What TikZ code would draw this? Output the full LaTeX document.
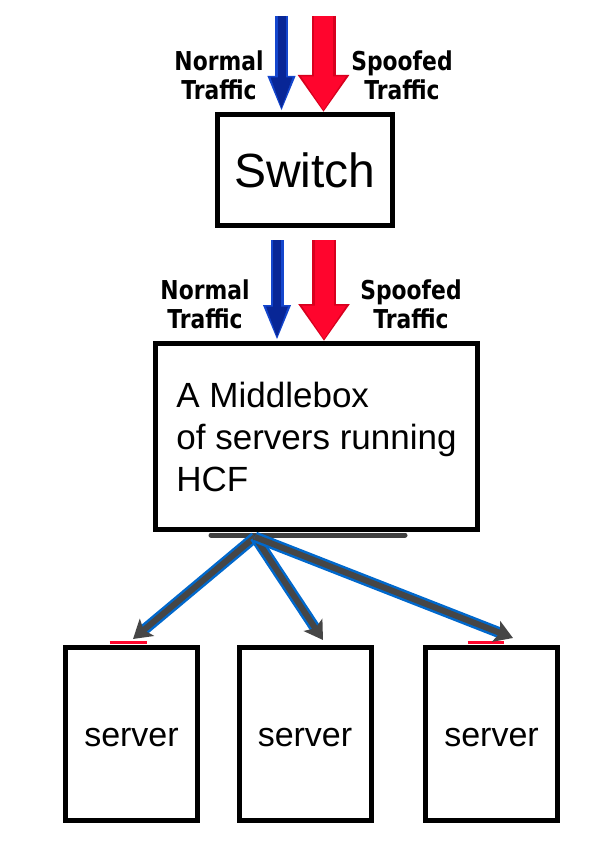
\documentclass[tikz,border=0pt]{standalone}
\usepackage{fontspec}
\usepackage{tikz}
\usetikzlibrary{arrows.meta}
\setmainfont{Liberation Sans}
\newfontfamily\trafficfont[FakeStretch=0.84]{DejaVu Sans}

\definecolor{normalfill}{RGB}{8,38,150}
\definecolor{normalline}{RGB}{20,70,205}
\definecolor{spooffill}{RGB}{255,5,45}
\definecolor{spoofline}{RGB}{215,0,30}
\definecolor{fangray}{RGB}{70,70,70}
\definecolor{fanblue}{RGB}{0,104,204}

\begin{document}
\begin{tikzpicture}[x=1pt, y=-1pt,
        box/.style={draw, line width=5pt, rectangle, inner sep=0pt},
        tlabel/.style={font=\trafficfont\bfseries\fontsize{26}{29}\selectfont, align=center},
        normalflow/.style={normalfill, line width=8pt, -{Triangle[length=33pt, width=19pt]}, shorten >=1.5pt,
            preaction={draw=normalline, line width=13pt, -{Triangle[length=36pt, width=25pt]}, shorten >=0pt}},
        spoofflow/.style={spooffill, line width=19pt, -{Triangle[length=34pt, width=42pt]}, shorten >=1.5pt,
            preaction={draw=spoofline, line width=24pt, -{Triangle[length=37pt, width=49pt]}, shorten >=0pt}},
        fanflow/.style={fangray, line width=6pt, -{Stealth[length=18pt, width=22pt, inset=4pt]},
            preaction={draw=fanblue, line width=11pt, -, shorten >=14pt}}
        ]
        \useasboundingbox (0,0) rectangle (600,842);

        \node[box, minimum width=175pt, minimum height=111pt, font=\fontsize{48}{56}\selectfont]
                (switch) at (305,170)   {Switch};
        \node[box, minimum width=322pt, minimum height=186pt, align=left,
              font=\fontsize{35}{42}\selectfont]
                (mbox)   at (316.5,436.5) {A Middlebox\\of servers running\\HCF};
        \node[box, minimum width=132pt, minimum height=173pt, text height=26pt, font=\fontsize{34}{40}\selectfont]
                (srv1)   at (131.5,734) {server};
        \node[box, minimum width=132pt, minimum height=173pt, text height=26pt, font=\fontsize{34}{40}\selectfont]
                (srv2)   at (305,734)   {server};
        \node[box, minimum width=132pt, minimum height=173pt, text height=26pt, font=\fontsize{34}{40}\selectfont]
                (srv3)   at (491.5,734) {server};

        \node[tlabel] (norm1)  at (219,75)  {Normal\\Traffic};
        \node[tlabel] (spoof1) at (402,75)  {Spoofed\\Traffic};
        \node[tlabel] (norm2)  at (205,304) {Normal\\Traffic};
        \node[tlabel] (spoof2) at (411,304) {Spoofed\\Traffic};

        \coordinate (nin1) at (281.5,16);
        \coordinate (sin1) at (323.5,16);
        \coordinate (nin2) at (277,240);
        \coordinate (sin2) at (324,240);
        \coordinate (fan)  at (255,537);

        % traffic into the switch and into the middlebox
        \draw[normalflow] (nin1) -- (nin1 |- switch.north);
        \draw[spoofflow]  (sin1) -- (sin1 |- switch.north);
        \draw[normalflow] (nin2) -- (nin2 |- mbox.north);
        \draw[spoofflow]  (sin2) -- (sin2 |- mbox.north);

        % leftovers under the middlebox and on the servers
        \draw[black!75, line width=5pt, line cap=round] ([xshift=58pt,yshift=-3pt]mbox.south west) -- ([xshift=-75pt,yshift=-3pt]mbox.south east);
        \draw[spooffill, line width=3pt] ([xshift=-22pt,yshift=3pt]srv1.north) -- ([xshift=15pt,yshift=3pt]srv1.north);
        \draw[spooffill, line width=3pt] ([xshift=-24pt,yshift=3pt]srv3.north) -- ([xshift=12pt,yshift=3pt]srv3.north);

        % middlebox to servers
        \draw[fanflow] (fan) -- ([xshift=1.5pt,yshift=6pt]srv1.north);
        \draw[fanflow] (fan) -- ([xshift=18pt,yshift=5pt]srv2.north);
        \draw[fanflow] (fan) -- ([xshift=21.5pt,yshift=7pt]srv3.north);
    \end{tikzpicture}
\end{document}
